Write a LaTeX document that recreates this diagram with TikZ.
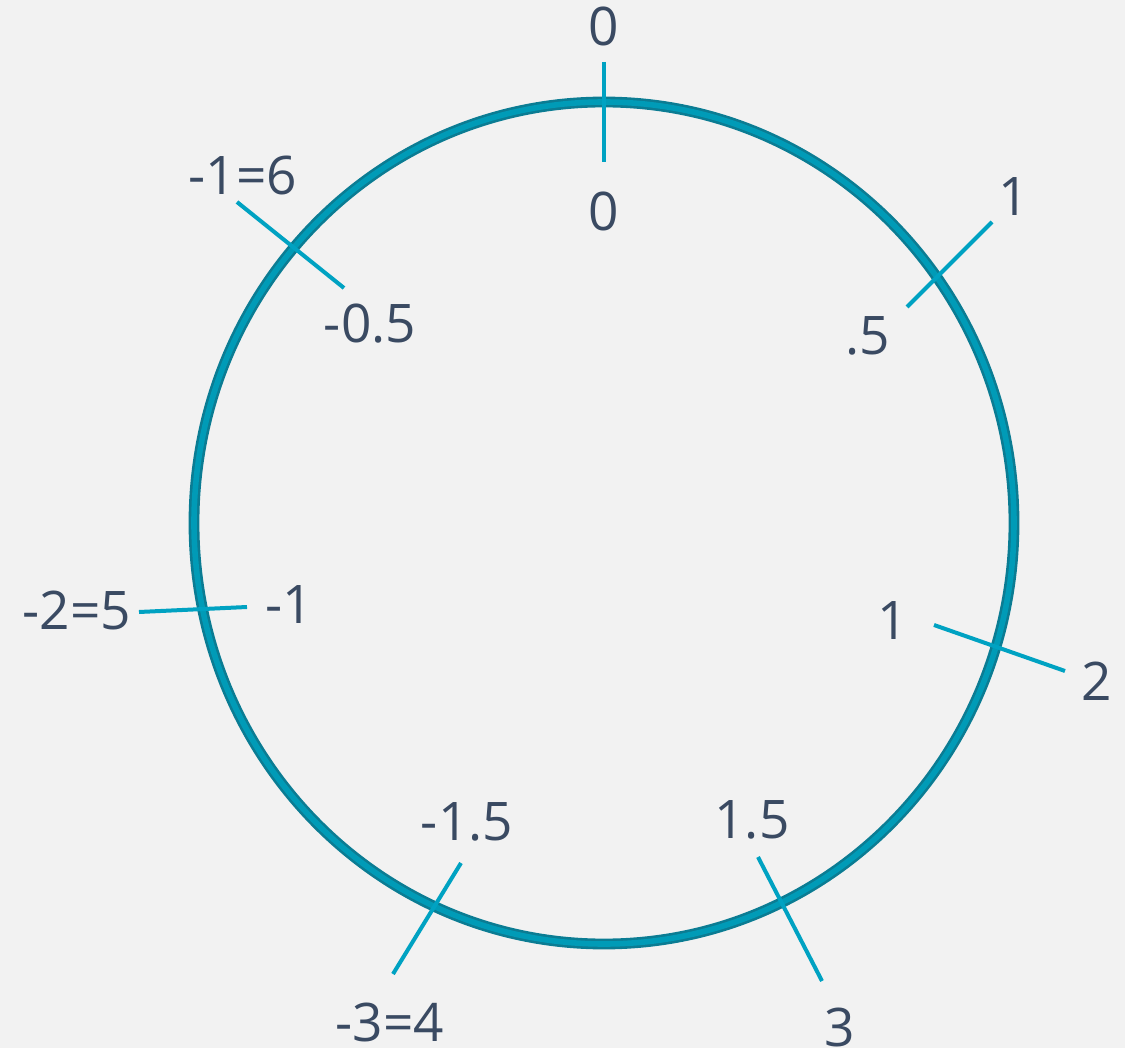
\documentclass[tikz,border=0pt]{standalone}
\usepackage{fontspec}
\setmainfont{Open Sans}
\usepackage{tikz}
\usetikzlibrary{positioning, calc}
\usepackage{xcolor}
\definecolor{rbg}{HTML}{F2F2F2}
\definecolor{rring}{HTML}{0B7C93}
\definecolor{rringin}{HTML}{009BB7}
\definecolor{rtick}{HTML}{00A2C2}
\definecolor{rtext}{HTML}{3A4A62}
\tikzset{
  lbl/.style={text=rtext, inner sep=0pt, font=\fontsize{26.6}{30}\selectfont},
  tickline/.style={draw=rtick, line width=2pt},
}

\begin{document}
\begin{tikzpicture}[
    x=0.5pt, y=-0.5pt,
    ringout/.style={draw=rring, line width=5.4pt},
    ringin/.style={draw=rringin, line width=2.8pt}
  ]

  % Background
  \fill[rbg] (0,0) rectangle (1125,1048);
  \useasboundingbox (0,0) rectangle (1125,1048);

  % Circle
  \coordinate (c) at (604, 523);
  \draw[ringout] (c) ellipse [x radius=410, y radius=421];
  \draw[ringin] (c) ellipse [x radius=410, y radius=421];

  % Tick ends
  \coordinate (t0a) at (604, 62);   \coordinate (t0b) at (604, 162);
  \coordinate (t1a) at (992, 222);  \coordinate (t1b) at (907, 307);
  \coordinate (t2a) at (934, 625);  \coordinate (t2b) at (1065, 671);
  \coordinate (t3a) at (758, 857);  \coordinate (t3b) at (822, 981);
  \coordinate (t4a) at (461, 863);  \coordinate (t4b) at (393, 974);
  \coordinate (t5a) at (139, 612);  \coordinate (t5b) at (247, 607);
  \coordinate (t6a) at (237, 202);  \coordinate (t6b) at (344, 288);

  % Ticks
  \draw[tickline] (t0a) -- (t0b);
  \draw[tickline] (t1a) -- (t1b);
  \draw[tickline] (t2a) -- (t2b);
  \draw[tickline] (t3a) -- (t3b);
  \draw[tickline] (t4a) -- (t4b);
  \draw[tickline] (t5a) -- (t5b);
  \draw[tickline] (t6a) -- (t6b);

  % Outer labels
  \node[lbl] (o0) at (604, 26)  {0};
  \node[lbl] (o1) at (1014, 197) {1};
  \node[lbl] (o2) at (1097, 681) {2};
  \node[lbl] (o3) at (840, 1027) {3};
  \node[lbl] (o4) at (390, 1022) {-3=4};
  \node[lbl] (o5) at (77, 610)  {-2=5};
  \node[lbl] (o6) at (243, 175) {-1=6};

  % Inner labels
  \node[lbl] (i0) at (604, 211) {0};
  \node[lbl] (i1) at (868, 336) {.5};
  \node[lbl] (i2) at (893, 621) {1};
  \node[lbl] (i3) at (752, 820) {1.5};
  \node[lbl] (i4) at (467, 822) {-1.5};
  \node[lbl] (i5) at (289, 605) {-1};
  \node[lbl] (i6) at (370, 324) {-0.5};

\end{tikzpicture}
\end{document}
